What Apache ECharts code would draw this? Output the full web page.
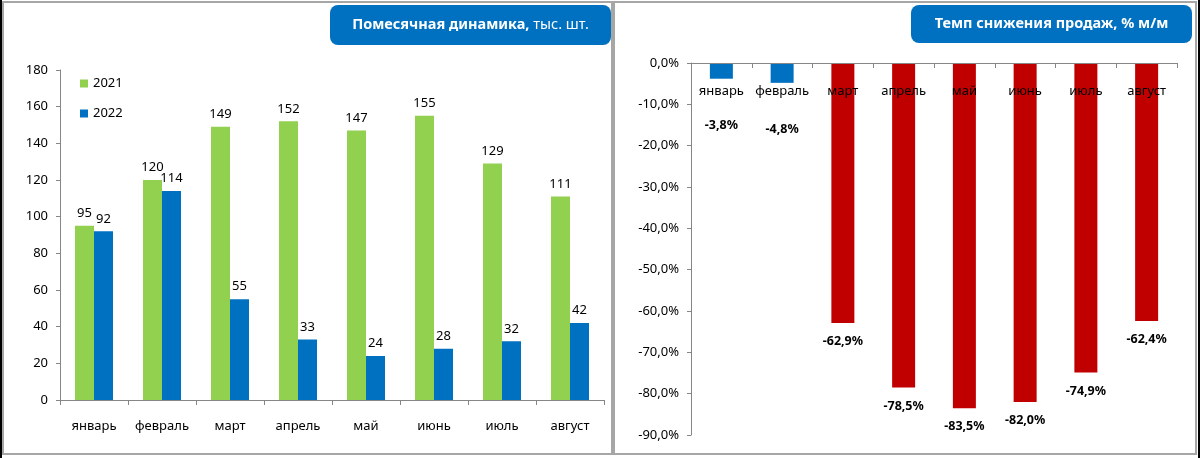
<!DOCTYPE html>
<html>
<head>
<meta charset="utf-8">
<script src="https://cdn.jsdelivr.net/npm/echarts@6/dist/echarts.min.js"></script>
<style>
  html, body { margin: 0; padding: 0; background: #fff; }
  #chart { width: 1200px; height: 458px; }
</style>
</head>
<body>
<div id="chart"></div>
<script>
const months = ['январь', 'февраль', 'март', 'апрель', 'май', 'июнь', 'июль', 'август']
const sales2021 = [95, 120, 149, 152, 147, 155, 129, 111]
const sales2022 = [92, 114, 55, 33, 24, 28, 32, 42]
const declinePct = [-3.8, -4.8, -62.9, -78.5, -83.5, -82.0, -74.9, -62.4]

const font = 'Noto Sans'
const axisGray = '#868686'

const chart = echarts.init(document.getElementById('chart'), null, { renderer: 'canvas' })

// small declines get their label pushed below the month names
const declineData = declinePct.map(v => ({
  value: v,
  itemStyle: { color: v > -10 ? '#0070c0' : '#c00000' },
  label: { distance: v > -10 ? 40 : 12 },
}))

const titleBox = (x, w, y, h, boldText, plainText) => ({
  type: 'group',
  left: x,
  top: y,
  children: [
    {
      type: 'rect',
      shape: { x: 0, y: 0, width: w, height: h, r: 8 },
      style: { fill: '#0070c0' },
    },
    {
      type: 'text',
      x: w / 2,
      y: h / 2,
      style: {
        text: '{b|' + boldText + '}' + (plainText ? '{n|' + plainText + '}' : ''),
        align: 'center',
        verticalAlign: 'middle',
        rich: {
          b: { fill: '#fff', fontFamily: font, fontSize: 14.5, fontWeight: 'bold' },
          n: { fill: '#fff', fontFamily: font, fontSize: 14.5 },
        },
      },
    },
  ],
})

const option = {
  backgroundColor: '#fff',
  animation: false,
  graphic: [
    { type: 'rect', shape: { x: 3, y: 2, width: 609, height: 452 }, style: { fill: '#fff', stroke: '#a6a6a6', lineWidth: 2 }, z: -10 },
    { type: 'rect', shape: { x: 614, y: 2, width: 582, height: 452 }, style: { fill: '#fff', stroke: '#a6a6a6', lineWidth: 2 }, z: -10 },
    { type: 'line', shape: { x1: 1, y1: 0, x2: 1, y2: 458 }, style: { stroke: '#000', lineWidth: 2 }, z: -9 },
    { type: 'line', shape: { x1: 1199, y1: 0, x2: 1199, y2: 458 }, style: { stroke: '#000', lineWidth: 2 }, z: -9 },
    titleBox(330, 281, 5, 40, 'Помесячная динамика,', ' тыс. шт.'),
    titleBox(911, 281, 5, 38, 'Темп снижения продаж, % м/м', ''),
  ],
  legend: {
    orient: 'vertical',
    left: 75,
    top: 72,
    itemWidth: 8,
    itemHeight: 8,
    itemGap: 17,
    icon: 'rect',
    textStyle: { fontFamily: font, fontSize: 13, color: '#000' },
    data: ['2021', '2022'],
  },
  grid: [
    { left: 60, right: 596, top: 70, bottom: 58 },
    { left: 691, right: 23, top: 63, bottom: 23 },
  ],
  xAxis: [
    {
      gridIndex: 0,
      type: 'category',
      data: months,
      axisLine: { lineStyle: { color: axisGray } },
      axisTick: { show: true, length: 5, lineStyle: { color: axisGray } },
      axisLabel: { color: '#000', fontFamily: font, fontSize: 13, margin: 20, interval: 0 },
    },
    {
      gridIndex: 1,
      type: 'category',
      data: months,
      position: 'top',
      z: 5,
      axisLine: { lineStyle: { color: axisGray } },
      axisTick: { show: true, inside: true, length: 5, lineStyle: { color: axisGray } },
      axisLabel: { color: '#000', fontFamily: font, fontSize: 13, inside: true, margin: 22, interval: 0 },
    },
  ],
  yAxis: [
    {
      gridIndex: 0,
      type: 'value',
      min: 0,
      max: 180,
      interval: 20,
      axisLine: { show: true, lineStyle: { color: axisGray } },
      axisTick: { show: true, length: 4, lineStyle: { color: axisGray } },
      splitLine: { show: false },
      axisLabel: { color: '#000', fontFamily: font, fontSize: 13, margin: 12 },
    },
    {
      gridIndex: 1,
      type: 'value',
      min: -90,
      max: 0,
      interval: 10,
      axisLine: { show: true, lineStyle: { color: axisGray } },
      axisTick: { show: true, length: 4, lineStyle: { color: axisGray } },
      splitLine: { show: false },
      axisLabel: {
        color: '#000',
        fontFamily: font,
        fontSize: 13,
        margin: 12,
        formatter: v => v.toFixed(1).replace('.', ',') + '%',
      },
    },
  ],
  series: [
    {
      name: '2021',
      type: 'bar',
      xAxisIndex: 0,
      yAxisIndex: 0,
      data: sales2021,
      barWidth: 19,
      barGap: '0%',
      itemStyle: { color: '#92d050' },
      label: { show: true, position: 'top', distance: 6, color: '#000', fontFamily: font, fontSize: 13 },
    },
    {
      name: '2022',
      type: 'bar',
      xAxisIndex: 0,
      yAxisIndex: 0,
      data: sales2022,
      barWidth: 19,
      barGap: '0%',
      itemStyle: { color: '#0070c0' },
      label: { show: true, position: 'top', distance: 6, color: '#000', fontFamily: font, fontSize: 13 },
    },
    {
      name: 'decline',
      type: 'bar',
      xAxisIndex: 1,
      yAxisIndex: 1,
      data: declineData,
      barWidth: 23,
      label: {
        show: true,
        position: 'bottom',
        color: '#000',
        fontFamily: font,
        fontSize: 12.5,
        fontWeight: 'bold',
        formatter: p => p.value.toFixed(1).replace('.', ',') + '%',
      },
    },
  ],
}

chart.setOption(option)
</script>
</body>
</html>
